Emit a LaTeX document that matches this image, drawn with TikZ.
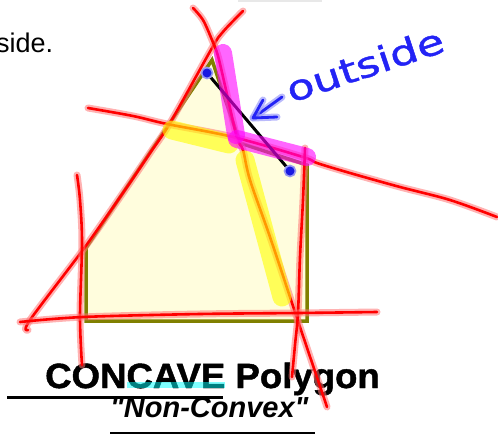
\documentclass[tikz,border=0pt]{standalone}
\usepackage{fontspec}
\setmainfont{Liberation Sans}
\newfontfamily\handfont[FakeBold=1.2]{DejaVu Sans}
\newfontfamily\titlefont[FakeBold=1.3]{Liberation Sans Bold}
\newfontfamily\subfont{Liberation Sans Bold Italic}
\newcommand\straightq{\XeTeXglyph\XeTeXcharglyph"22\relax}
\definecolor{olivebrd}{RGB}{128,128,0}
\definecolor{polyfill}{RGB}{255,253,221}
\definecolor{handblue}{RGB}{35,35,245}
\definecolor{dotblue}{RGB}{25,25,225}
\definecolor{hlmag}{RGB}{255,0,255}
\definecolor{hlyel}{RGB}{255,255,0}
\definecolor{hlcyan}{RGB}{0,255,255}
\begin{document}
\begin{tikzpicture}[x=1pt,y=-1pt,
  redline/.style={draw=red, line width=2.6pt, line cap=round, line join=round,
    preaction={draw=red!55, line width=7pt, draw opacity=0.55, line cap=round, line join=round}},
  blueline/.style={draw=handblue, line width=2.8pt, line cap=round, line join=round,
    preaction={draw=handblue!45, line width=7pt, draw opacity=0.7, line cap=round, line join=round}},
  hlyellow/.style={draw=hlyel, line width=19pt, line cap=round, draw opacity=0.6},
  hlmagenta/.style={draw=hlmag, line width=18pt, line cap=round, draw opacity=0.6},
  polystyle/.style={draw=olivebrd, line width=3.5pt, fill=polyfill},
  seg/.style={draw=black, line width=3pt, line cap=round},
  bluedot/.style={circle, inner sep=0pt, minimum size=9pt, fill=dotblue,
    preaction={draw=dotblue!45, line width=3.5pt}}
]
\useasboundingbox (0,0) rectangle (498,434);

% faint mark at top
\draw[gray!18, line width=2pt] (238,1) -- (322,1);

% texts
\node[anchor=base west, inner sep=0pt, font=\fontsize{27}{27}\selectfont] (side) at (-4,52) {side.};
\node[anchor=base west, inner sep=0pt, font=\titlefont\fontsize{35}{35}\selectfont] (title) at (45,388) {\scalebox{1.045}[1]{CONCAVE Polygon}};
\draw[line width=3pt] (7,397) -- (223,397);
\draw[hlcyan, line width=6pt, draw opacity=0.5] (127,385) -- (225,385);
\node[anchor=base west, inner sep=0pt, font=\subfont\fontsize{29}{29}\selectfont] (sub) at (110,417) {\straightq Non-Convex\straightq};
\draw[line width=1.5pt] (110,433) -- (315,433);

% polygon
\draw[polystyle] (212,60) coordinate (top) -- (240,143) coordinate (notch) -- (307,165) coordinate (rt)
  -- (307,321) coordinate (br) -- (86,321) coordinate (bl) -- (86,248) coordinate (lf) -- cycle;

% red extension lines
\draw[redline] plot[smooth, tension=0.55] coordinates {(243,11) (237,17) (222,33) (212,48) (170,123) (150,153) (127,187) (85,247) (30,320) (28,330)};
\draw[redline] plot[smooth, tension=0.55] coordinates {(193,8) (203,20) (212,40) (218,56) (226,90) (237,138) (243,150) (250,180) (270,237) (292,303) (300,327) (327,407)};
\draw[redline] plot[smooth, tension=0.55] coordinates {(88,108) (133,116) (167,124) (233,137) (303,157) (317,163) (350,173) (400,187) (450,200) (497,217)};
\draw[redline] plot[smooth, tension=0.55] coordinates {(305,148) (303,200) (300,257) (298,313) (295,345) (292,377)};
\draw[redline] plot[smooth, tension=0.55] coordinates {(77,175) (80,200) (82,243) (80,317) (82,365)};
\draw[redline] plot[smooth, tension=0.55] coordinates {(20,322) (83,317) (200,314) (298,313) (377,312)};

% segment between two inside points
\coordinate (pa) at (207,73);
\coordinate (pb) at (290,171);
\draw[seg] (pa) -- (pb);

% highlighter strokes
\draw[hlyellow] (172,130) -- (229,144);
\draw[hlyellow] (245,160) -- (282,297);
\draw[hlmagenta] (223,53) -- (236,135);
\draw[hlmagenta] (237,139) -- (307,157);

% end points
\node[bluedot] (dota) at (pa) {};
\node[bluedot] (dotb) at (pb) {};

% arrow and label
\coordinate (tip) at (253,118);
\coordinate (tail) at (282,97);
\coordinate (barb1) at (263,100);
\coordinate (barb2) at (277,117);
\draw[blueline] (tail) -- (tip);
\draw[blueline] (barb1) -- (tip) -- (barb2);
\node[anchor=base, inner sep=0pt, rotate=18.5, text=handblue, font=\handfont\fontsize{35}{35}\selectfont] (lbl) at (369,77) {\scalebox{1.27}[1]{outside}};
\end{tikzpicture}
\end{document}
